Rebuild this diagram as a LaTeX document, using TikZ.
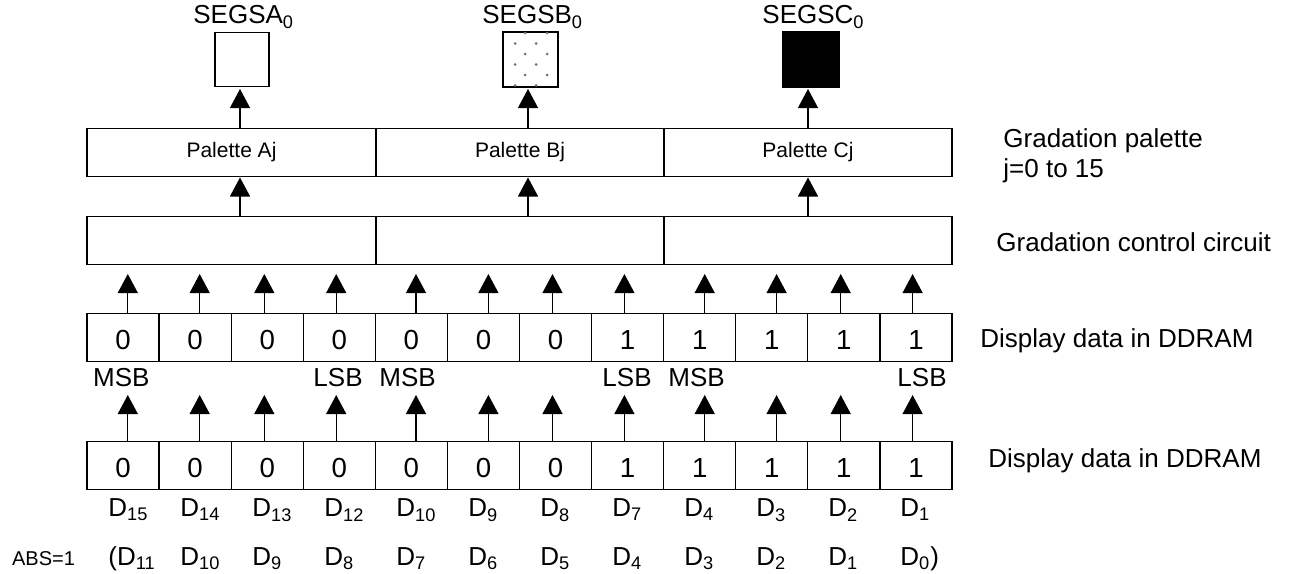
\documentclass[tikz,border=0pt]{standalone}
\usepackage{fontspec}
\setmainfont{Liberation Sans}
\usetikzlibrary{arrows.meta}
\begin{document}
\begin{tikzpicture}[x=0.5pt,y=-0.5pt,
  box/.style={draw, line width=0.65pt, inner sep=0pt},
  arr/.style={line width=0.6pt, -{Triangle[width=10pt,length=9.5pt]}},
  lbl/.style={inner sep=0pt, font=\fontsize{13}{15}\selectfont},
  small/.style={inner sep=0pt, font=\fontsize{10.5}{12}\selectfont},
  cell/.style={box, minimum width=36.04pt, minimum height=24pt, text height=11.7pt, text depth=0pt, font=\fontsize{13.8}{15}\selectfont},
]
\useasboundingbox (0,0) rectangle (1295,573);

% data cells
\foreach \i/\v in {0/0,1/0,2/0,3/0,4/0,5/0,6/0,7/1,8/1,9/1,10/1,11/1}{
  \node[cell] (u\i) at ({87+72.08*(\i+0.5)},337.5) {\v};
  \node[cell, minimum height=23.8pt] (l\i) at ({87+72.08*(\i+0.5)},465.5) {\v};
}

% control circuit
\node[box, minimum width=144.5pt, minimum height=23.75pt] (cA) at (231.5,240.5) {};
\node[box, minimum width=144pt, minimum height=23.75pt] (cB) at (520,240.5) {};
\node[box, minimum width=144pt, minimum height=23.75pt] (cC) at (808,240.5) {};

% palettes
\node[box, small, minimum width=144.5pt, minimum height=24.25pt] (pA) at (231.5,152.5) {Palette Aj};
\node[box, small, minimum width=144pt, minimum height=24.25pt] (pB) at (520,152.5) {Palette Bj};
\node[box, small, minimum width=144pt, minimum height=24.25pt] (pC) at (808,152.5) {Palette Cj};

% segment boxes
\node[box, minimum width=27pt, minimum height=27pt] (sA) at (242,59.5) {};
\node[box, minimum width=27.5pt, minimum height=27.5pt] (sB) at (530.5,59.5) {};
\node[box, fill=black, minimum width=28pt, minimum height=27.5pt] (sC) at (811,59.5) {};
\foreach \yy/\xa/\xb in {33/525/547,43.5/515/536,54/525/547,64.5/515/536,75/525/547,85.5/515/536}{
  \fill[black!55] (\xa,\yy) circle (0.75pt);
  \fill[black!55] (\xb,\yy) circle (0.75pt);
}

% arrows between data rows and control
\foreach \i/\ax in {0/127.8,1/199.7,2/264.3,3/336.2,4/416,5/488.4,6/552.5,7/624.4,8/704.7,9/776.6,10/840.7,11/912.6}{
  \coordinate (ut\i) at (\ax,274);
  \draw[arr] (ut\i |- u\i.north) -- (ut\i);
  \coordinate (lt\i) at (\ax,395);
  \draw[arr] (lt\i |- l\i.north) -- (lt\i);
}

% control -> palette
\coordinate (pAt) at (240,177.5);
\coordinate (pBt) at (528,177.5);
\coordinate (pCt) at (808,177.5);
\draw[arr] (pAt |- cA.north) -- (pAt);
\draw[arr] (pBt |- cB.north) -- (pBt);
\draw[arr] (pCt |- cC.north) -- (pCt);

% palette -> segment
\coordinate (sAt) at (240,89);
\coordinate (sBt) at (528,89);
\coordinate (sCt) at (808,89);
\draw[arr] (sAt |- pA.north) -- (sAt);
\draw[arr] (sBt |- pB.north) -- (sBt);
\draw[arr] (sCt |- pC.north) -- (sCt);

% segment labels
\node[lbl, anchor=base west] (tA) at (193,24) {SEGSA\textsubscript{0}};
\node[lbl, anchor=base west] (tB) at (482,24) {SEGSB\textsubscript{0}};
\node[lbl, anchor=base west] (tC) at (762,24) {SEGSC\textsubscript{0}};

% MSB / LSB
\node[lbl, anchor=base west] (m1) at (92.7,386.7) {MSB};
\node[lbl, anchor=base west] (m2) at (379,386.7) {MSB};
\node[lbl, anchor=base west] (m3) at (668,386.7) {MSB};
\node[lbl, anchor=base east] (s1) at (363,386.7) {LSB};
\node[lbl, anchor=base east] (s2) at (652,386.7) {LSB};
\node[lbl, anchor=base east] (s3) at (947,386.7) {LSB};

% D labels
\foreach \i/\s in {0/15,1/14,2/13,3/12,4/10,5/9,6/8,7/7,8/4,9/3,10/2,11/1}{
  \node[lbl, anchor=base west] (d\i) at ({108+72*\i},516.7) {D\textsubscript{\s}};
}
\node[lbl, anchor=base west] (e0) at (108,565) {(D\textsubscript{11}};
\foreach \i/\s in {1/10,2/9,3/8,4/7,5/6,6/5,7/4,8/3,9/2,10/1}{
  \node[lbl, anchor=base west] (e\i) at ({108+72*\i},565) {D\textsubscript{\s}};
}
\node[lbl, anchor=base west] (e11) at (900,565) {D\textsubscript{0})};
\node[inner sep=0pt, font=\fontsize{10}{12}\selectfont, anchor=base west] (abs) at (11.7,565) {ABS=1};

% right labels
\node[lbl, anchor=base west] (g1) at (1003,147) {Gradation palette};
\node[lbl, anchor=base west] (g2) at (1003,177) {j=0 to 15};
\node[lbl, anchor=base west] (g3) at (996,251) {Gradation control circuit};
\node[lbl, anchor=base west] (g4) at (980,347) {Display data in DDRAM};
\node[lbl, anchor=base west] (g5) at (988,467) {Display data in DDRAM};
\end{tikzpicture}
\end{document}
